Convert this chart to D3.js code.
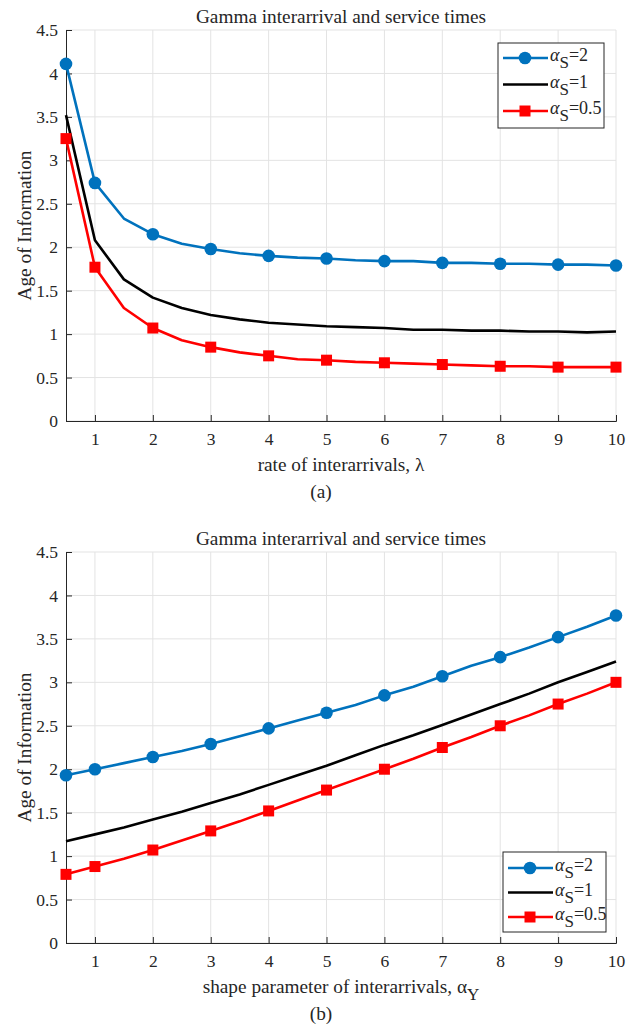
<!DOCTYPE html>
<html>
<head>
<meta charset="utf-8">
<script src="https://cdn.jsdelivr.net/npm/d3@7"></script>
<style>
  body { margin: 0; background: #fff; }
  text { font-family: "Liberation Serif", "Times New Roman", serif; fill: #262626; }
</style>
</head>
<body>
<div id="chart"></div>
<script>
// x grid shared by both panels
const xVals = [0.5, 1, 1.5, 2, 2.5, 3, 3.5, 4, 4.5, 5, 5.5, 6, 6.5, 7, 7.5, 8, 8.5, 9, 9.5, 10];
const markerX = [0.5, 1, 2, 3, 4, 5, 6, 7, 8, 9, 10];
const xTicks = [1, 2, 3, 4, 5, 6, 7, 8, 9, 10];
const yTicks = [0, 0.5, 1, 1.5, 2, 2.5, 3, 3.5, 4, 4.5];

// panel (a): vs rate of interarrivals
const aS2 = [4.11, 2.74, 2.33, 2.15, 2.04, 1.98, 1.93, 1.90, 1.88, 1.87, 1.85, 1.84, 1.84, 1.82, 1.82, 1.81, 1.81, 1.80, 1.80, 1.79];
const aS1 = [3.52, 2.08, 1.63, 1.42, 1.30, 1.22, 1.17, 1.13, 1.11, 1.09, 1.08, 1.07, 1.05, 1.05, 1.04, 1.04, 1.03, 1.03, 1.02, 1.03];
const aS05 = [3.25, 1.77, 1.30, 1.07, 0.93, 0.85, 0.79, 0.75, 0.71, 0.70, 0.68, 0.67, 0.66, 0.65, 0.64, 0.63, 0.63, 0.62, 0.62, 0.62];

// panel (b): vs shape parameter of interarrivals
const bS2 = [1.93, 2.00, 2.07, 2.14, 2.21, 2.29, 2.38, 2.47, 2.56, 2.65, 2.74, 2.85, 2.95, 3.07, 3.19, 3.29, 3.40, 3.52, 3.64, 3.77];
const bS1 = [1.17, 1.25, 1.33, 1.42, 1.51, 1.61, 1.71, 1.82, 1.93, 2.04, 2.16, 2.28, 2.39, 2.51, 2.63, 2.75, 2.87, 3.00, 3.12, 3.24];
const bS05 = [0.79, 0.88, 0.97, 1.07, 1.18, 1.29, 1.40, 1.52, 1.64, 1.76, 1.88, 2.00, 2.12, 2.25, 2.37, 2.50, 2.62, 2.75, 2.87, 3.00];

const seriesNames = ["2", "1", "0.5"];
const colors = ["#0072BD", "#000000", "#FF0000"];
const markers = ["circle", null, "square"];

const svg = d3.select("#chart").append("svg")
    .attr("width", 639).attr("height", 1027);

function drawPanel(cfg) {
    const x = d3.scaleLinear().domain([0.5, 10]).range([66, 616]);
    const y = d3.scaleLinear().domain([0, 4.5]).range([cfg.bottom, cfg.bottom - 391]);
    const g = svg.append("g");

    // grid
    g.append("g").selectAll("line").data(xTicks).join("line")
        .attr("x1", d => x(d)).attr("x2", d => x(d))
        .attr("y1", y(0)).attr("y2", y(4.5))
        .attr("stroke", "#e3e3e3").attr("stroke-width", 1);
    g.append("g").selectAll("line").data(yTicks).join("line")
        .attr("x1", x(0.5)).attr("x2", x(10))
        .attr("y1", d => y(d)).attr("y2", d => y(d))
        .attr("stroke", "#e3e3e3").attr("stroke-width", 1);

    // axes (MATLAB style, ticks inward)
    const ax = g.append("g").attr("transform", `translate(0,${y(0)})`)
        .call(d3.axisBottom(x).tickValues(xTicks).tickSize(-6).tickPadding(12).tickFormat(d3.format("d")));
    const ay = g.append("g").attr("transform", `translate(${x(0.5)},0)`)
        .call(d3.axisLeft(y).tickValues(yTicks).tickSize(-6).tickPadding(8).tickFormat(d => d));
    [ax, ay].forEach(a => {
        a.select(".domain").attr("stroke", "#262626").attr("stroke-width", 1);
        a.selectAll(".tick line").attr("stroke", "#262626");
        a.selectAll("text").attr("font-size", 17.5).attr("font-family", "Liberation Serif").attr("fill", "#262626");
    });

    // title
    g.append("text").attr("x", 341).attr("y", y(4.5) - 7)
        .attr("text-anchor", "middle").attr("font-size", 19.3).text("Gamma interarrival and service times");

    // y label
    g.append("text").attr("transform", `translate(31,${y(2.25)}) rotate(-90)`)
        .attr("text-anchor", "middle").attr("font-size", 19.3).text("Age of Information");

    // x label
    const xl = g.append("text").attr("x", 341).attr("y", y(0) + 50)
        .attr("text-anchor", "middle").attr("font-size", 19.3);
    xl.append("tspan").text(cfg.xlabel);
    if (cfg.xsub) xl.append("tspan").attr("dy", 7).attr("font-size", 17).text(cfg.xsub);

    // caption
    g.append("text").attr("x", 321).attr("y", y(0) + 77)
        .attr("text-anchor", "middle").attr("font-size", 19.3).attr("fill", "#000").text(cfg.caption);

    const line = d3.line().x((d, i) => x(xVals[i])).y(d => y(d));
    cfg.series.forEach((vals, k) => {
        g.append("path").datum(vals).attr("d", line)
            .attr("fill", "none").attr("stroke", colors[k]).attr("stroke-width", 2.6)
            .attr("stroke-linejoin", "round");
        const pts = xVals.map((v, i) => [v, vals[i]]).filter(p => markerX.includes(p[0]));
        if (markers[k] === "circle") {
            g.append("g").selectAll("circle").data(pts).join("circle")
                .attr("cx", p => x(p[0])).attr("cy", p => y(p[1])).attr("r", 6.3)
                .attr("fill", colors[k]);
        } else if (markers[k] === "square") {
            g.append("g").selectAll("rect").data(pts).join("rect")
                .attr("x", p => x(p[0]) - 5.5).attr("y", p => y(p[1]) - 5.5)
                .attr("width", 11).attr("height", 11).attr("fill", colors[k]);
        }
    });

    // legend
    const L = cfg.legend;
    const lg = g.append("g").attr("transform", `translate(${L.x},${L.y})`);
    lg.append("rect").attr("width", L.w).attr("height", L.h)
        .attr("fill", "#fff").attr("stroke", "#262626").attr("stroke-width", 1);
    seriesNames.forEach((n, k) => {
        const ly = L.row0 + k * L.step;
        lg.append("line").attr("x1", 5).attr("x2", 50).attr("y1", ly).attr("y2", ly)
            .attr("stroke", colors[k]).attr("stroke-width", 2.6);
        if (markers[k] === "circle") lg.append("circle").attr("cx", 27).attr("cy", ly).attr("r", 6.3).attr("fill", colors[k]);
        if (markers[k] === "square") lg.append("rect").attr("x", 21.5).attr("y", ly - 5.5).attr("width", 11).attr("height", 11).attr("fill", colors[k]);
        const t = lg.append("text").attr("x", 52).attr("y", ly + 3).attr("font-size", 18).attr("fill", "#000");
        t.append("tspan").attr("font-style", "italic").text("α");
        t.append("tspan").attr("dy", 7).attr("font-size", 17).text("S");
        t.append("tspan").attr("dy", -7).text("=" + n);
    });
}

drawPanel({
    bottom: 421, series: [aS2, aS1, aS05],
    xlabel: "rate of interarrivals, λ", xsub: null, caption: "(a)",
    legend: {x: 498, y: 43, w: 106, h: 85, row0: 15, step: 26.5}
});
drawPanel({
    bottom: 943, series: [bS2, bS1, bS05],
    xlabel: "shape parameter of interarrivals, α", xsub: "Y", caption: "(b)",
    legend: {x: 503, y: 852, w: 103, h: 80, row0: 16, step: 24.5}
});
</script>
</body>
</html>
